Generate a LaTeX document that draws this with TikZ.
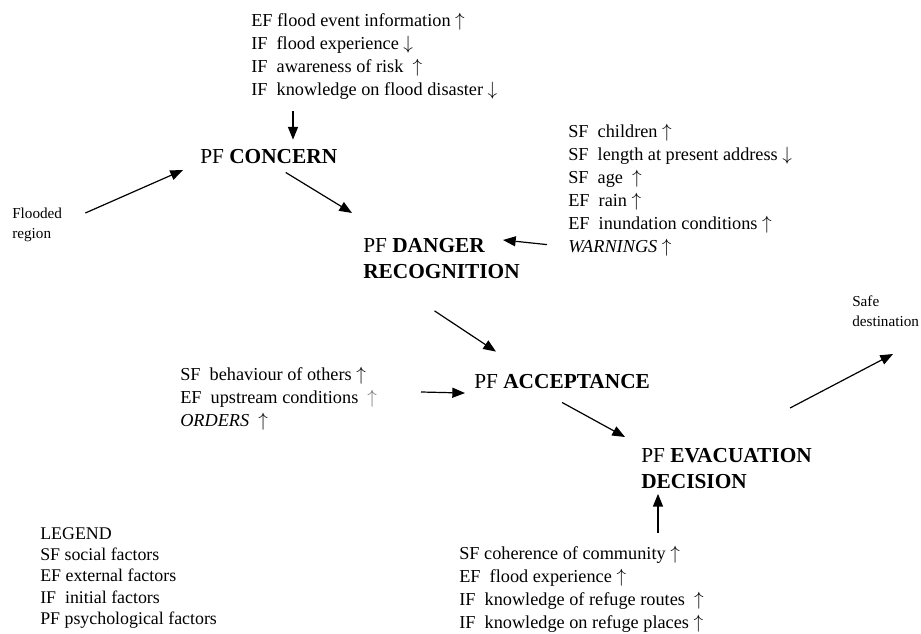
\documentclass[tikz,border=0pt]{standalone}
\usepackage{fontspec}
\setmainfont{Liberation Serif}
\usetikzlibrary{arrows.meta}
\newcommand{\factfont}{\fontsize{13.7}{17.25}\selectfont}
\newcommand{\legfont}{\fontsize{13.4}{16}\selectfont}
\newcommand{\pffont}{\fontsize{16}{19.5}\selectfont}
\newcommand{\placefont}{\fontsize{11.4}{15}\selectfont}
\newcommand{\pf}[1]{PF \textbf{#1}}
\newcommand{\incr}{$\uparrow$}
\newcommand{\decr}{$\downarrow$}
\tikzset{
  factors/.style={anchor=north west,font=\factfont,align=left},
  stage/.style={font=\pffont,align=left},
  place/.style={anchor=north west,font=\placefont,align=left},
  flow/.style={-{Triangle[length=9.5pt,width=7.5pt]},line width=0.9pt}
}

\begin{document}
\begin{tikzpicture}[x=0.75pt,y=-0.75pt,every node/.style={inner sep=0pt}]
\useasboundingbox (0,0) rectangle (921,634);
% stages
\node[stage,anchor=base west] (concern) at (200,164) {\pf{CONCERN}};
\node[stage,anchor=north west] (danger) at (363,238) {\pf{DANGER}\\\textbf{RECOGNITION}};
\node[stage,anchor=base west] (accept) at (474,389) {\pf{ACCEPTANCE}};
\node[stage,anchor=north west] (evac) at (641,448) {\pf{EVACUATION}\\\textbf{DECISION}};
% start and end
\node[place] (flooded) at (12,208) {Flooded\\region};
\node[place] (safe) at (852,296) {Safe\\destination};
% factor lists
\node[factors] (topf) at (251,13) {EF flood event information \incr\\
IF~ flood experience \decr\\
IF~ awareness of risk~ \incr\\
IF~ knowledge on flood disaster \decr};
\node[factors] (rightf) at (568,124) {SF~ children \incr\\
SF~ length at present address \decr\\
SF~ age~ \incr\\
EF~ rain \incr\\
EF~ inundation conditions \incr\\
\textit{WARNINGS} \incr};
\node[factors] (midf) at (180,367) {SF~ behaviour of others \incr\\
EF~ upstream conditions~ {\color{black!55}\incr}\\
\textit{ORDERS}~ \incr};
\node[factors] (botf) at (459,546) {SF coherence of community \incr\\
EF~ flood experience \incr\\
IF~ knowledge of refuge routes~ \incr\\
IF~ knowledge on refuge places \incr};
\node[anchor=north west,font=\legfont,align=left] (legend) at (40,527) {LEGEND\\
SF social factors\\
EF external factors\\
IF~ initial factors\\
PF psychological factors};
% arrows
\draw[flow] ([shift={(42,11)}]topf.south west) -- ([shift={(93,-10)}]concern.north west);
\draw[flow] ([shift={(23,5)}]flooded.north east) -- ([shift={(-17,13)}]concern.west);
\draw[flow] ([shift={(17,8)}]concern.south) -- ([shift={(-11,-25)}]danger.north west);
\draw[flow] ([shift={(-21,-12)}]rightf.south west) -- ([shift={(140,2)}]danger.north west);
\draw[flow] ([shift={(-7,32)}]danger.south) -- ([shift={(22,-23)}]accept.north west);
\draw[flow] ([shift={(241,25)}]midf.north west) -- ([shift={(-9,11)}]accept.west);
\draw[flow] ([shift={(0,13)}]accept.south) -- ([shift={(-16,-11)}]evac.north west);
\draw[flow] ([shift={(-22,-40)}]evac.north east) -- ([shift={(41,58)}]safe.north west);
\draw[flow] ([shift={(199,-13)}]botf.north west) -- ([shift={(17,5)}]evac.south west);
\end{tikzpicture}
\end{document}
